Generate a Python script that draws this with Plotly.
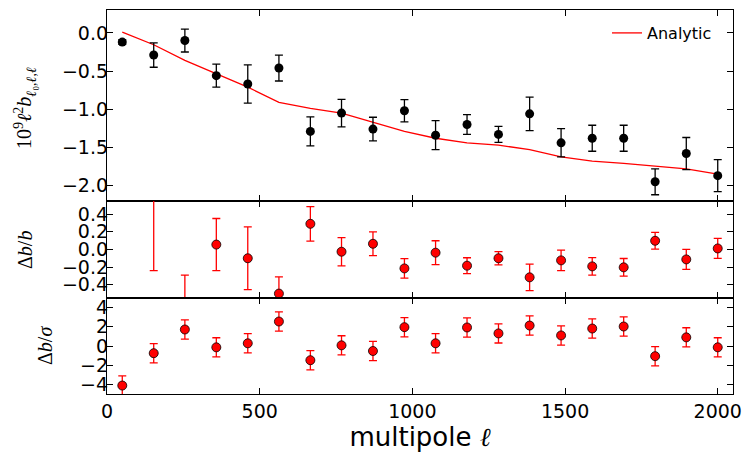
import plotly.graph_objects as go
from plotly.subplots import make_subplots

# ---- data ----
ell = [50, 153, 255, 358, 461, 563, 666, 768, 871, 974,
       1076, 1179, 1282, 1384, 1487, 1589, 1692, 1795, 1897, 2000]
b_meas = [-0.12, -0.29, -0.10, -0.56, -0.67, -0.46, -1.29, -1.05, -1.26, -1.02,
          -1.34, -1.20, -1.33, -1.06, -1.44, -1.38, -1.38, -1.95, -1.58, -1.87]
b_err = [0.03, 0.16, 0.15, 0.15, 0.25, 0.17, 0.19, 0.18, 0.155, 0.145,
         0.19, 0.13, 0.105, 0.22, 0.185, 0.17, 0.17, 0.17, 0.21, 0.21]
b_analytic = [0.01, -0.155, -0.36, -0.53, -0.71, -0.91, -0.99, -1.05, -1.17, -1.29,
              -1.38, -1.44, -1.47, -1.53, -1.625, -1.68, -1.71, -1.75, -1.78, -1.85]
frac = [-10.0, 0.80, -0.72, 0.055, -0.10, -0.50, 0.29, -0.026, 0.064, -0.215,
        -0.037, -0.184, -0.10, -0.316, -0.124, -0.192, -0.203, 0.098, -0.113, 0.011]
frac_err = [2.3, 1.04, 0.43, 0.295, 0.355, 0.19, 0.195, 0.16, 0.135, 0.11,
            0.135, 0.09, 0.075, 0.15, 0.115, 0.10, 0.10, 0.095, 0.113, 0.113]
sig = [-4.12, -0.75, 1.72, -0.14, 0.28, 2.55, -1.48, 0.07, -0.52, 1.96,
       0.28, 1.93, 1.31, 2.13, 1.10, 1.82, 2.03, -1.06, 0.90, -0.14]
sig_err = [1.0] * 20

x_ticks = [0, 500, 1000, 1500, 2000]
y1_ticks = [0.0, -0.5, -1.0, -1.5, -2.0]
y2_ticks = [0.4, 0.2, 0.0, -0.2, -0.4]
y3_ticks = [4, 2, 0, -2, -4]

# page body has an 8px margin, so the figure is drawn offset by (8, 8)
OFF = 8
W, H = 755 - OFF, 468 - OFF
ML, MR, MT, MB = 107 - OFF, 22, 10 - OFF, 74

fig = make_subplots(rows=3, cols=1, shared_xaxes=True, vertical_spacing=0,
                    row_heights=[0.497, 0.253, 0.25])

fig.add_trace(go.Scatter(x=ell, y=b_analytic, mode="lines", name="Analytic",
                         line=dict(color="#ff0000", width=1.3)), row=1, col=1)
fig.add_trace(go.Scatter(x=ell, y=b_meas, mode="markers", showlegend=False,
                         marker=dict(color="black", size=9),
                         error_y=dict(type="data", array=b_err, color="black",
                                      thickness=1.3, width=4)), row=1, col=1)

fig.add_hline(y=0, line=dict(color="black", width=1.3, dash="dash"), row=2, col=1)
fig.add_trace(go.Scatter(x=ell, y=frac, mode="markers", showlegend=False,
                         marker=dict(color="#ff0000", size=9,
                                     line=dict(color="black", width=0.8)),
                         error_y=dict(type="data", array=frac_err, color="#ff0000",
                                      thickness=1.3, width=4)), row=2, col=1)

fig.add_hline(y=0, line=dict(color="black", width=1.3, dash="dash"), row=3, col=1)
fig.add_trace(go.Scatter(x=ell, y=sig, mode="markers", showlegend=False,
                         marker=dict(color="#ff0000", size=9,
                                     line=dict(color="black", width=0.8)),
                         error_y=dict(type="data", array=sig_err, color="#ff0000",
                                      thickness=1.3, width=4)), row=3, col=1)

tickfont = dict(family="DejaVu Sans", size=19, color="black")
axis_common = dict(showline=True, linecolor="black", linewidth=1.3, mirror="allticks",
                   ticks="inside", ticklen=6, tickwidth=1.1, tickcolor="black",
                   showgrid=False, zeroline=False, tickfont=tickfont, automargin=False)

for i in (1, 2, 3):
    fig.update_xaxes(range=[0, 2050], tickvals=x_ticks, row=i, col=1, **axis_common)
fig.update_xaxes(showticklabels=True, row=3, col=1,
                 title=dict(text="multipole <span style='font-family:Liberation Serif'><i>ℓ</i></span>",
                            font=dict(family="DejaVu Sans", size=26, color="black"),
                            standoff=6))

fig.update_yaxes(range=[-2.2, 0.3], tickvals=y1_ticks, tickformat=".1f", row=1, col=1, **axis_common)
fig.update_yaxes(range=[-0.55, 0.55], tickvals=y2_ticks, tickformat=".1f", row=2, col=1, **axis_common)
fig.update_yaxes(range=[-5, 5], tickvals=y3_ticks, tickformat="d", row=3, col=1, **axis_common)
fig.update_yaxes(ticklabelstandoff=-6)

serif = dict(family="Liberation Serif", size=20, color="black")
pw = W - ML - MR
ph = H - MT - MB

def px_to_paper(xp, yp):
    # xp, yp are page pixels as measured on the reference
    return (xp - OFF - ML) / pw, 1 - (yp - OFF - MT) / ph

labels = [
    ("10<sup>9</sup><i>ℓ</i><sup>2</sup><i>b</i><sub><i>ℓ</i>₀<i>,ℓ,ℓ</i></sub>", 25, 108),
    ("Δ<i>b</i>/<i>b</i>", 25, 250),
    ("Δ<i>b</i>/<i>σ</i>", 45, 346),
]
for txt, xp, yp in labels:
    ax, ay = px_to_paper(xp, yp)
    fig.add_annotation(text=txt, x=ax, y=ay, xref="paper", yref="paper",
                       xanchor="center", yanchor="middle", textangle=-90,
                       showarrow=False, font=serif)

lx, ly = px_to_paper(607, 33)
fig.update_layout(
    width=W, height=H,
    margin=dict(l=ML, r=MR, t=MT, b=MB, autoexpand=False),
    paper_bgcolor="white", plot_bgcolor="white",
    legend=dict(x=lx, y=ly, xanchor="left", yanchor="middle",
                bgcolor="rgba(0,0,0,0)", borderwidth=0, itemwidth=30,
                font=dict(family="DejaVu Sans", size=16, color="black")),
)

fig.write_html("out.html")
